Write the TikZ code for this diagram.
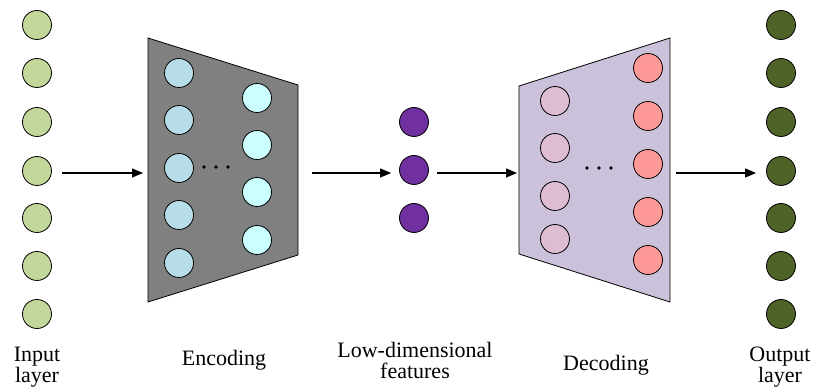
\documentclass[tikz,border=0pt]{standalone}
\usepackage{fontspec}
\setmainfont{LiberationSerif-Regular.ttf}
\usetikzlibrary{arrows.meta}

\definecolor{inG}{HTML}{C4D79B}
\definecolor{encbg}{HTML}{808080}
\definecolor{encA}{HTML}{B7DDE8}
\definecolor{encB}{HTML}{CCFFFF}
\definecolor{latP}{HTML}{7030A0}
\definecolor{decbg}{HTML}{CCC1DA}
\definecolor{decA}{HTML}{DEBCD2}
\definecolor{decB}{HTML}{FF9999}
\definecolor{outG}{HTML}{4F6228}

\begin{document}
\begin{tikzpicture}[x=1pt,y=-1pt,
  neuron/.style={circle,draw=black,line width=0.8pt,minimum size=29pt,inner sep=0pt},
  block/.style={draw=black,line width=0.8pt},
  flow/.style={line width=1.2pt,-{Triangle[length=11pt,width=9pt]}},
  lbl/.style={anchor=base,inner sep=0pt,font=\fontsize{22}{22}\selectfont},
  dot/.style={circle,fill=black,inner sep=0pt,minimum size=3.6pt}]

\useasboundingbox (0,0) rectangle (815,390);

% encoder and decoder blocks
\coordinate (encTL) at (148,38);  \coordinate (encTR) at (298,85);
\coordinate (encBR) at (298,255); \coordinate (encBL) at (148,302);
\coordinate (decTL) at (519,86);  \coordinate (decTR) at (670,38);
\coordinate (decBR) at (670,302); \coordinate (decBL) at (519,254);
\draw[block,fill=encbg] (encTL) -- (encTR) -- (encBR) -- (encBL) -- cycle;
\draw[block,fill=decbg] (decTL) -- (decTR) -- (decBR) -- (decBL) -- cycle;
\coordinate (encIn)  at (148,173);
\coordinate (encOut) at (298,173);
\coordinate (decIn)  at (519,173);
\coordinate (decOut) at (670,173);

% input and output layers
\foreach \i/\y in {1/25,2/73,3/122,4/171,5/218,6/266,7/314} {
  \node[neuron,fill=inG]  (in\i)  at (37,\y)  {};
  \node[neuron,fill=outG] (out\i) at (781,\y) {};
}

% encoder neurons
\foreach \i/\y in {1/73,2/120,3/168,4/215,5/263}
  \node[neuron,fill=encA] (ea\i) at (179,\y) {};
\foreach \i/\y in {1/98,2/145,3/192,4/240}
  \node[neuron,fill=encB] (eb\i) at (257,\y) {};
\foreach \i/\x in {1/204,2/216,3/228}
  \node[dot] (ed\i) at (\x,167) {};

% low-dimensional features
\foreach \i/\y in {1/122,2/170,3/218}
  \node[neuron,fill=latP] (lat\i) at (414,\y) {};

% decoder neurons
\foreach \i/\y in {1/101,2/148,3/196,4/239}
  \node[neuron,fill=decA] (da\i) at (555,\y) {};
\foreach \i/\y in {1/68,2/116,3/164,4/212,5/260}
  \node[neuron,fill=decB] (db\i) at (648,\y) {};
\foreach \i/\x in {1/587,2/599,3/611}
  \node[dot] (dd\i) at (\x,168) {};

% data flow
\draw[flow] ([xshift=10pt]in4.east |- encIn) -- ([xshift=-5pt]encIn);
\draw[flow] ([xshift=14pt]encOut) -- ([xshift=-8pt]lat2.west |- encOut);
\draw[flow] ([xshift=8pt]lat2.east |- decIn) -- ([xshift=-2pt]decIn);
\draw[flow] ([xshift=6pt]decOut) -- ([xshift=-10pt]out4.west |- decOut);

% labels
\node[lbl] (tIn1)  at (37,362)  {Input};
\node[lbl] (tIn2)  at (37,383)  {layer};
\node[lbl] (tEnc)  at (224,366) {Encoding};
\node[lbl] (tLat1) at (415,358) {Low-dimensional};
\node[lbl] (tLat2) at (415,379) {features};
\node[lbl] (tDec)  at (606,371) {Decoding};
\node[lbl] (tOut1) at (780,362) {Output};
\node[lbl] (tOut2) at (780,383) {layer};
\end{tikzpicture}
\end{document}
